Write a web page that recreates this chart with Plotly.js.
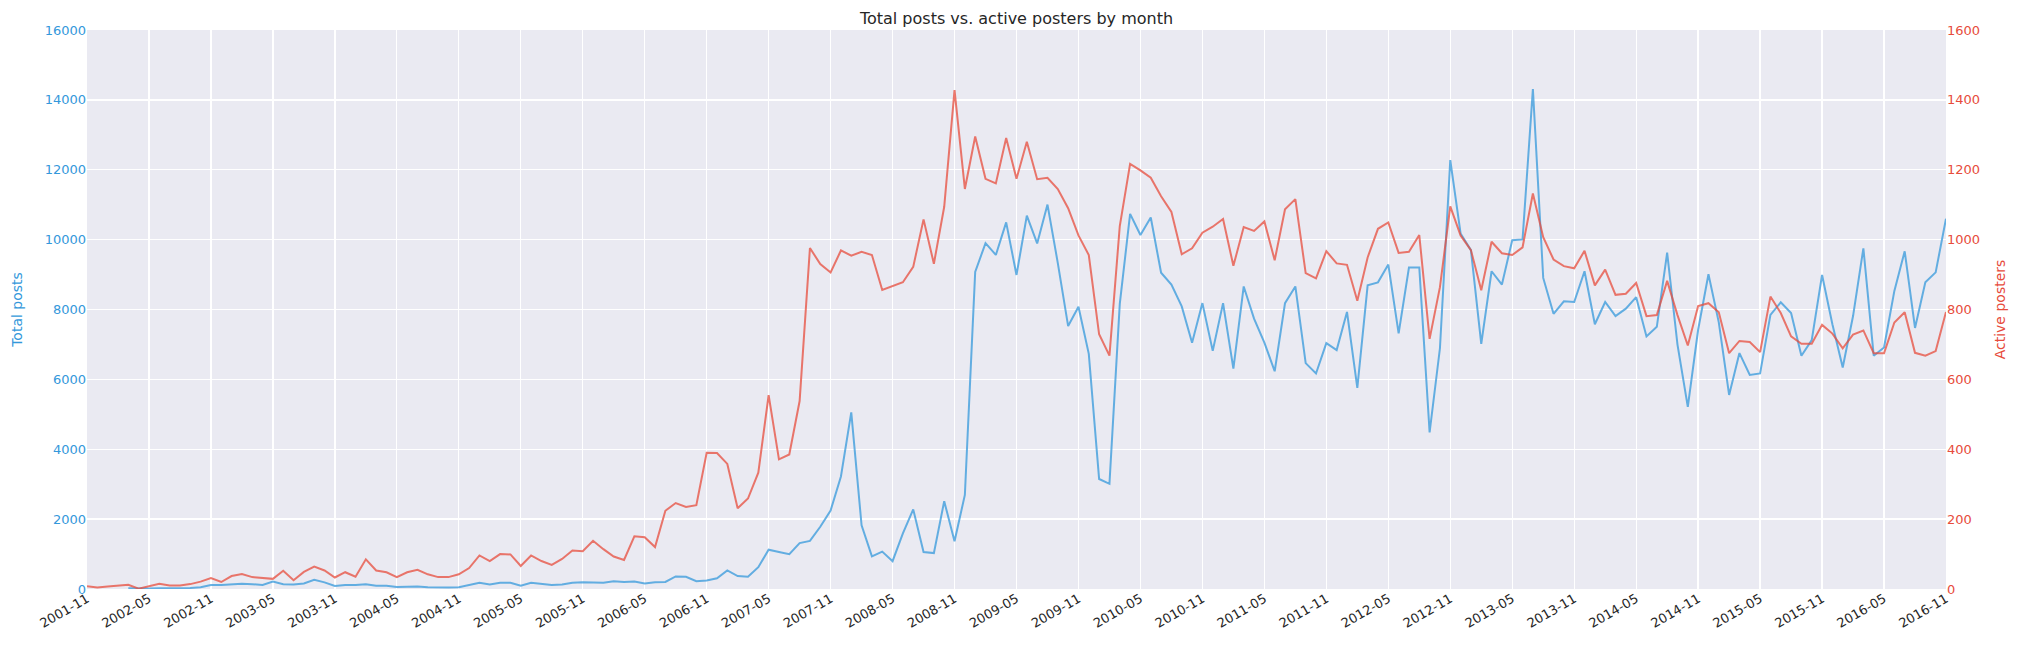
<!DOCTYPE html>
<html>
<head>
<meta charset="utf-8">
<script src="https://cdn.plot.ly/plotly-3.0.1.min.js"></script>
<style>html,body{margin:0;padding:0;background:#fff;}#chart{width:2022px;height:651px;}</style>
</head>
<body>
<div id="chart"></div>
<script>
// Monthly categories from 2001-11 to 2016-11
const startYear = 2001, startMonth = 11, monthCount = 181;

const tickLabels = ["2001-11","2002-05","2002-11","2003-05","2003-11","2004-05","2004-11","2005-05","2005-11","2006-05","2006-11","2007-05","2007-11","2008-05","2008-11","2009-05","2009-11","2010-05","2010-11","2011-05","2011-11","2012-05","2012-11","2013-05","2013-11","2014-05","2014-11","2015-05","2015-11","2016-05","2016-11"];

const totalPosts = [null,null,null,null,20,10,15,20,20,25,30,53,117,117,138,148,138,117,212,138,127,159,265,190,85,117,117,138,95,95,55,
64,74,53,42,42,53,117,180,127,180,180,95,180,148,117,127,180,191,191,180,223,201,212,159,191,201,360,350,223,244,
307,530,371,350,625,1124,1060,996,1314,1378,1781,2247,3222,5056,1823,933,1071,795,1590,2279,1060,1028,2512,1367,2692,9074,9900,9561,10494,8989,
10685,9890,11003,9328,7526,8077,6731,3148,3010,8162,10738,10134,10632,9052,8713,8088,7049,8183,6816,8183,6307,8660,7738,7049,6233,8183,8660,6466,6169,7038,
6837,7929,5756,8692,8777,9286,7314,9201,9201,4484,6890,12275,10176,9699,7017,9095,8713,9985,10006,14310,8904,7876,8236,8215,9095,7579,8215,7812,8024,8353,
7229,7505,9625,6996,5215,7420,9010,7632,5554,6752,6127,6169,7844,8204,7897,6678,7123,8989,7579,6339,7812,9752,6678,6911,8533,9667,7473,8777,9063,10600];

const activePosters = [8,4,7,10,12,1,8,15,10,10,14,21,31,20,37,43,34,31,29,52,25,49,64,53,33,48,35,85,53,48,34,
48,55,42,34,34,42,60,96,80,100,99,66,96,80,69,86,110,108,138,114,93,83,151,148,120,224,246,235,240,390,
389,358,231,259,333,555,371,385,538,976,930,906,969,954,965,956,856,867,878,922,1058,931,1094,1428,1145,1295,1174,1161,1291,1174,
1280,1173,1177,1145,1090,1012,956,729,668,1039,1217,1198,1177,1124,1079,958,975,1020,1037,1059,925,1036,1025,1052,941,1087,1116,904,889,967,
932,928,825,949,1031,1049,962,965,1013,716,864,1095,1012,970,855,994,961,956,978,1132,1007,943,924,918,968,869,914,842,845,876,
781,784,882,784,697,810,818,792,675,710,707,678,837,790,723,702,702,756,731,689,728,740,675,675,763,792,676,668,681,793];

const months = [];
for (let k = 0; k < monthCount; k++) {
  const m0 = startMonth - 1 + k;
  const y = startYear + Math.floor(m0 / 12);
  const m = (m0 % 12) + 1;
  months.push(y + "-" + (m < 10 ? "0" + m : "" + m));
}

const BLUE = "#3498db", RED = "#e74c3c", FONT = "DejaVu Sans, Verdana, sans-serif";

const traces = [
  {x: months, y: totalPosts, type: "scatter", mode: "lines", name: "Total posts",
   line: {color: BLUE, width: 2}, opacity: 0.75, yaxis: "y", connectgaps: false, hoverinfo: "x+y"},
  {x: months, y: activePosters, type: "scatter", mode: "lines", name: "Active posters",
   line: {color: RED, width: 2}, opacity: 0.75, yaxis: "y2", hoverinfo: "x+y"}
];

const layout = {
  width: 2022, height: 651,
  margin: {l: 87, r: 76, t: 30, b: 62, pad: 0},
  paper_bgcolor: "#ffffff", plot_bgcolor: "#EAEAF2",
  showlegend: false,
  font: {family: FONT, size: 13, color: "#262626"},
  title: {text: "Total posts vs. active posters by month", font: {family: FONT, size: 16, color: "#262626"},
          x: 0.5, xref: "paper", xanchor: "center", y: 1 - 18/651, yref: "container", yanchor: "middle"},
  xaxis: {type: "category", range: [0, monthCount - 1], tickmode: "array", tickvals: tickLabels, ticktext: tickLabels,
          tickangle: -30, showgrid: true, gridcolor: "#ffffff", gridwidth: 1.3, zeroline: false, showline: false,
          ticks: "", ticklen: 0, ticklabelstandoff: -1, tickfont: {family: FONT, size: 13, color: "#262626"}},
  yaxis: {range: [0, 16000], dtick: 2000, tick0: 0, showgrid: true, gridcolor: "#ffffff", gridwidth: 1.3,
          zeroline: false, showline: false, ticks: "", tickformat: "d",
          tickfont: {family: FONT, size: 13, color: BLUE},
          title: {text: "Total posts", font: {family: FONT, size: 14, color: BLUE}, standoff: 18}},
  yaxis2: {range: [0, 1600], dtick: 200, tick0: 0, overlaying: "y", side: "right", showgrid: false,
          zeroline: false, showline: false, ticks: "", tickformat: "d",
          tickfont: {family: FONT, size: 13, color: RED},
          title: {text: "Active posters", font: {family: FONT, size: 14, color: RED}, standoff: 16}}
};

Plotly.newPlot("chart", traces, layout, {displayModeBar: false, staticPlot: true});
</script>
</body>
</html>
